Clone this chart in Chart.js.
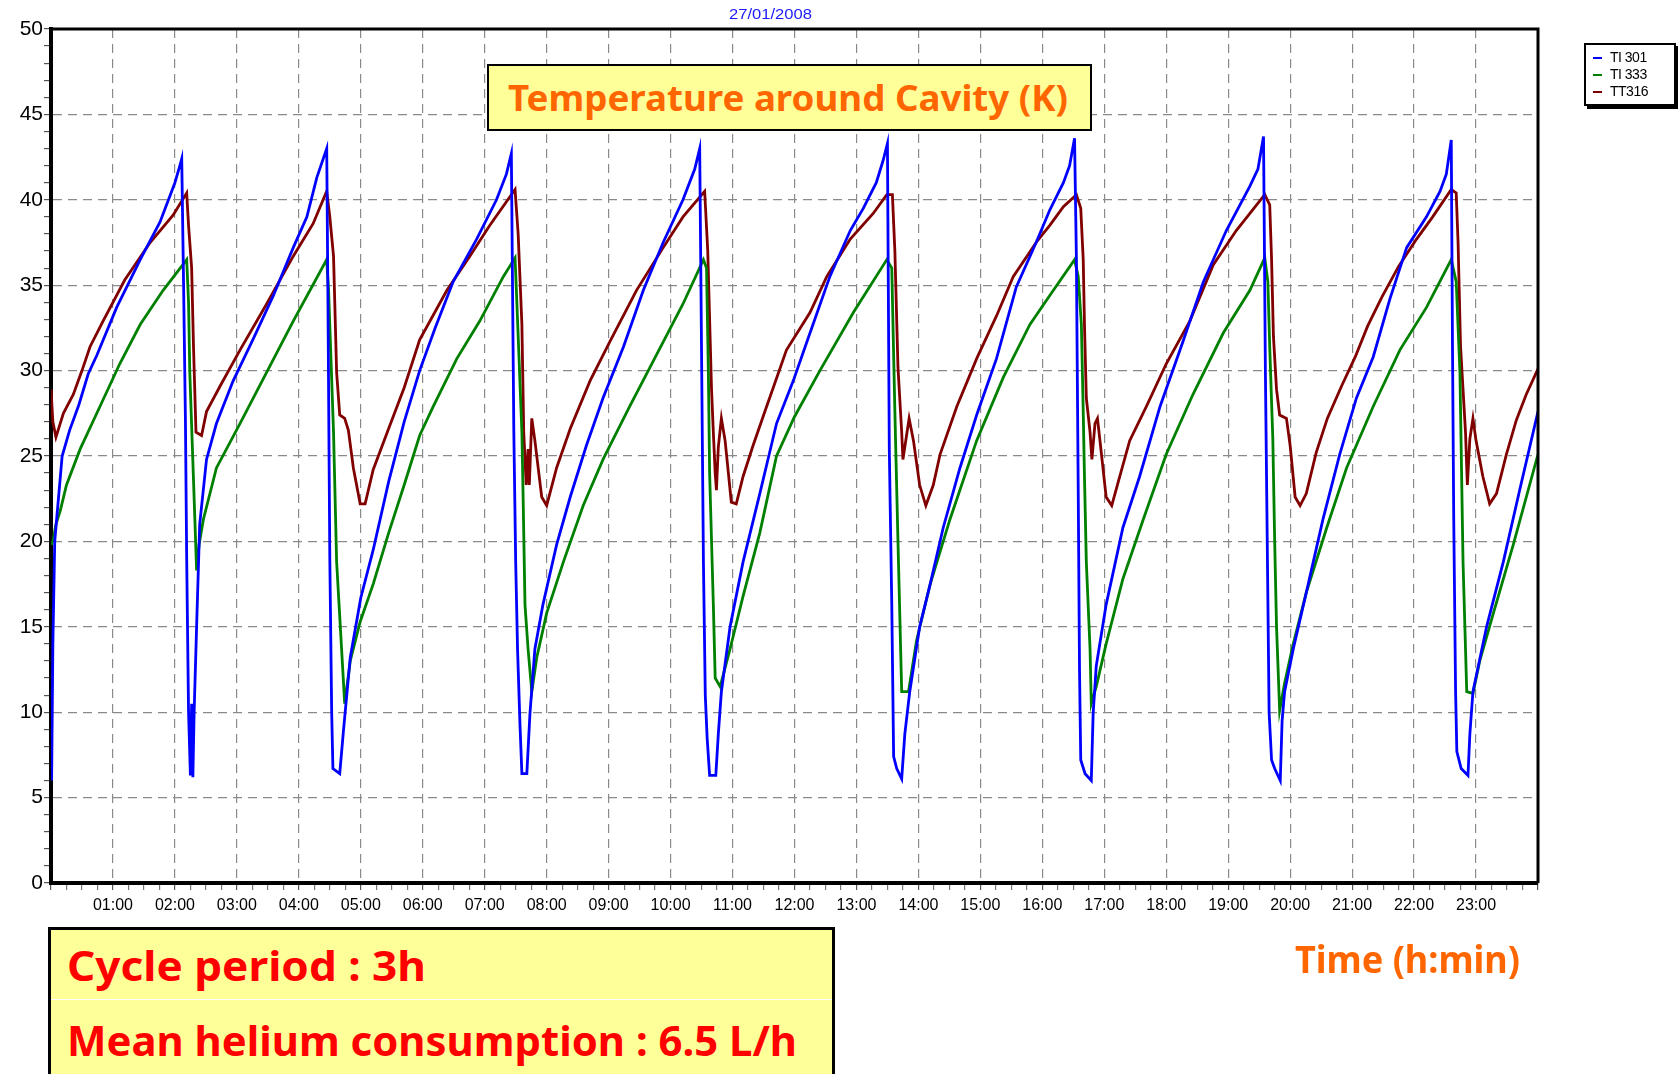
<!DOCTYPE html>
<html>
<head>
<meta charset="utf-8">
<script src="https://cdn.jsdelivr.net/npm/chart.js@4.4.0/dist/chart.umd.min.js"></script>
<style>
  html, body { margin: 0; padding: 0; background: #fff; }
  #wrap { position: relative; width: 1678px; height: 1074px; overflow: hidden; background: #fff; }
  #c { position: absolute; left: 0; top: 0; }
  .fit { position: absolute; white-space: nowrap; transform-origin: left center; }
  #date { color: #1a1aff; font: 15px "Liberation Sans", Arial, sans-serif; left: 729px; top: 5px; }
  #titleBox { position: absolute; left: 487px; top: 64px; width: 605px; height: 67px; box-sizing: border-box;
              border: 2px solid #000; background: #FFFF99; }
  #titleText { color: #FF6600; font: bold 36px "Comic Sans MS", "Noto Sans", sans-serif; left: 19px; top: 7px; }
  #infoBox { position: absolute; left: 48px; top: 927px; width: 787px; height: 170px; box-sizing: border-box;
             border: 3px solid #000; background: #FFFF99; }
  #divider { position: absolute; left: 0; right: 0; top: 69px; height: 1px; background: #fff; }
  .info { color: #FF0000; font: bold 42px "Comic Sans MS", "Noto Sans", sans-serif; left: 16px; }
  #xTitle { color: #FF6600; font: bold 37px "Comic Sans MS", "Noto Sans", sans-serif; left: 1295px; top: 933px; }
  #legend { position: absolute; left: 1584px; top: 43px; width: 92px; height: 63px; box-sizing: border-box;
            border: 2px solid #000; background: #fff; box-shadow: 3px 3px 0 #000; padding-top: 4px; }
  .lg { position: relative; height: 17px; font: 14px "Liberation Sans", Arial, sans-serif; color: #000; letter-spacing: -0.5px; }
  .lg i { position: absolute; left: 7px; top: 8px; width: 9px; height: 2px; }
  .lg span { position: absolute; left: 24px; top: 0; line-height: 17px; }
</style>
</head>
<body>
<div id="wrap">
  <canvas id="c" width="1678" height="1074"></canvas>
  <div id="date" class="fit">27/01/2008</div>
  <div id="titleBox"><span id="titleText" class="fit">Temperature around Cavity (K)</span></div>
  <div id="legend"></div>
  <div id="infoBox">
    <span id="info1" class="fit info" style="top:6px">Cycle period : 3h</span>
    <div id="divider"></div>
    <span id="info2" class="fit info" style="top:81px">Mean helium consumption : 6.5 L/h</span>
  </div>
  <div id="xTitle" class="fit">Time (h:min)</div>
</div>
<script>
// ---------------- DATA ----------------
const seriesLabels = ['TI 301', 'TI 333', 'TT316'];
const seriesColors = ['#0000FF', '#008000', '#800000'];
const hourTickLabels = ['01:00','02:00','03:00','04:00','05:00','06:00','07:00','08:00','09:00','10:00','11:00','12:00',
                        '13:00','14:00','15:00','16:00','17:00','18:00','19:00','20:00','21:00','22:00','23:00'];
const dateLabel = '27/01/2008';

// TI 301 (blue)
const ti301Hours = [0.01,0.03,0.06,0.12,0.18,0.3,0.45,0.6,0.74,1.06,1.44,1.76,2.0,2.08,2.11,2.14,2.17,2.19,2.22,2.25,2.27,2.29,2.31,2.35,2.4,2.51,2.67,2.94,3.27,3.59,3.91,4.13,4.29,4.45,
  4.47,4.5,4.53,4.55,4.66,4.72,4.83,5.0,5.2,5.45,5.7,5.95,6.2,6.49,6.87,7.19,7.35,7.43,
  7.47,7.5,7.53,7.57,7.6,7.68,7.73,7.81,7.94,8.16,8.38,8.64,8.91,9.24,9.56,9.88,10.2,10.39,10.47,
  10.5,10.53,10.56,10.59,10.63,10.73,10.77,10.82,10.96,11.17,11.44,11.71,11.98,12.25,12.57,12.9,13.11,13.32,13.43,13.5,
  13.53,13.57,13.6,13.65,13.73,13.78,13.86,14.02,14.19,14.4,14.67,14.94,15.26,15.58,15.9,16.12,16.34,16.44,16.52,
  16.55,16.58,16.6,16.62,16.69,16.79,16.82,16.87,17.03,17.3,17.57,17.9,18.27,18.6,18.97,19.35,19.48,19.57,
  19.6,19.63,19.66,19.7,19.75,19.84,19.87,19.91,20.05,20.26,20.53,20.8,21.07,21.34,21.61,21.88,22.2,22.42,22.52,22.6,
  22.62,22.64,22.67,22.69,22.76,22.87,22.9,22.95,23.17,23.44,23.71,24];
const ti301Values = [6.0,14,20,22.5,25,26.5,28,29.8,30.9,33.7,36.5,38.7,41,42,42.4,35,27,19,10,6.3,10.5,6.2,10,15,21,24.8,26.9,29.4,31.9,34.4,37.2,39,41.3,43,
  34,19,10,6.7,6.4,8.9,13.2,16.7,19.5,23.5,27,30,32.5,35.2,37.7,40,41.5,42.7,
  26.4,18.8,13.7,9.2,6.4,6.4,9.9,13.7,16.3,19.8,22.6,25.6,28.4,31.4,34.7,37.5,40,41.8,43,
  31,18.8,11,8.5,6.3,6.3,8.7,11.2,15,18.8,22.8,26.9,29.4,32.2,35.5,38.2,39.5,41,42.3,43.3,
  25.4,16.3,7.4,6.7,6.1,8.7,11.2,15,17.5,20.8,24.3,27.4,30.7,34.9,37.5,39.4,41,42,43.6,
  36.5,22.6,12.5,7.2,6.4,6.0,9.9,12.7,16.3,20.8,23.8,27.9,31.7,35.2,38.2,40.8,41.8,43.7,
  30,20,10,7.2,6.7,6.0,9.5,11.2,13.7,17,21.3,25.1,28.4,30.8,34.2,37.2,39,40.5,41.5,43.5,
  31.4,21.3,11.2,7.7,6.7,6.3,8.7,11.2,15,18.8,23.1,27.6];

// TI 333 (green)
const ti333Hours = [0.0,0.03,0.08,0.15,0.25,0.47,0.79,1.11,1.44,1.81,2.19,2.22,2.24,2.3,2.35,2.39,2.46,2.67,3.05,3.48,3.91,4.45,
  4.48,4.56,4.61,4.69,4.74,4.83,4.99,5.2,5.45,5.7,5.95,6.17,6.55,6.92,7.3,7.49,
  7.52,7.6,7.62,7.65,7.7,7.76,7.84,8.0,8.27,8.59,8.91,9.34,9.77,10.2,10.53,
  10.58,10.61,10.63,10.69,10.72,10.8,10.96,11.17,11.44,11.71,12.0,12.41,12.95,13.49,13.57,
  13.62,13.67,13.73,13.84,13.97,14.19,14.51,14.94,15.37,15.8,16.12,16.52,
  16.58,16.63,16.66,16.68,16.71,16.77,16.79,16.87,17.03,17.3,17.63,18.0,18.43,18.92,19.35,19.59,
  19.64,19.67,19.72,19.75,19.78,19.83,19.91,20.05,20.26,20.59,20.91,21.34,21.77,22.2,22.6,
  22.68,22.74,22.79,22.85,22.95,23.06,23.28,23.6,24];
const ti333Values = [19.8,20,21,21.8,23.3,25.4,27.9,30.4,32.7,34.7,36.5,34,29.9,23.6,18.3,19.8,21.3,24.3,26.9,29.9,32.9,36.5,
  34.7,26.4,18.8,13.7,10.5,13,15.3,17.5,20.5,23.3,26.2,27.9,30.7,32.9,35.5,36.6,
  33.9,26.4,22.6,16.3,13.7,11.2,13.2,15.8,18.8,22.1,24.8,27.9,30.9,33.9,36.5,
  36,29.9,24,16.3,12,11.5,13.7,16.8,20.5,25,27.3,30,33.4,36.5,36,
  27.6,20,11.2,11.2,14.2,17.5,21.3,25.9,29.6,32.7,34.4,36.5,
  35.5,32.7,27.6,23.8,18.8,13.7,10.5,11.5,14,17.8,21.3,25.1,28.6,32.2,34.7,36.6,
  35.2,31.4,26,20,15,10.1,11.7,14,17,20.8,24.3,27.9,31.2,33.7,36.5,
  35.2,29.9,18.8,11.2,11.1,13,15.8,19.8,25.1];

// TT316 (dark red)
const tt316Hours = [0.0,0.03,0.08,0.2,0.36,0.5,0.63,0.84,1.0,1.19,1.6,1.97,2.19,2.22,2.27,2.3,2.34,2.43,2.51,2.73,3.05,3.48,3.91,4.23,4.45,
  4.5,4.56,4.61,4.66,4.74,4.8,4.88,4.99,5.07,5.2,5.47,5.7,5.95,6.39,6.76,7.08,7.49,
  7.54,7.6,7.63,7.67,7.7,7.72,7.76,7.81,7.92,8.0,8.16,8.38,8.7,9.02,9.45,9.88,10.2,10.55,
  10.6,10.66,10.69,10.72,10.74,10.77,10.82,10.88,10.98,11.06,11.17,11.33,11.55,11.87,12.25,12.52,12.9,13.27,13.49,13.58,
  13.62,13.67,13.73,13.75,13.8,13.85,13.92,14.02,14.12,14.24,14.35,14.62,14.94,15.26,15.53,15.9,16.12,16.34,16.55,
  16.62,16.66,16.68,16.71,16.77,16.8,16.85,16.89,16.93,17.03,17.12,17.25,17.41,17.68,18.0,18.38,18.76,19.13,19.35,19.59,
  19.67,19.7,19.73,19.78,19.83,19.94,20.0,20.08,20.16,20.26,20.42,20.6,20.83,21.05,21.25,21.48,21.75,22.04,22.3,22.6,22.68,
  22.71,22.75,22.79,22.83,22.86,22.9,22.95,23.0,23.11,23.22,23.33,23.49,23.65,23.81,24];
const tt316Values = [28.9,27,26.1,27.5,28.6,30,31.4,32.9,34,35.3,37.5,39.1,40.4,38.5,36,31.4,26.4,26.2,27.6,29.1,31.2,33.9,36.7,38.6,40.5,
  39,36.7,29.9,27.4,27.2,26.5,24.3,22.2,22.2,24.2,26.8,29,31.8,34.7,36.7,38.5,40.6,
  38,32.7,26.4,23.3,25.4,23.3,27.2,25.9,22.6,22.1,24.3,26.6,29.4,31.7,34.7,37.2,39,40.5,
  37,29,26.4,24,23,25.5,27.2,25.9,22.3,22.2,23.8,25.6,27.9,31.2,33.4,35.5,37.7,39.2,40.3,40.3,
  37,30.2,26.4,24.8,26,27.2,25.9,23.3,22.1,23.3,25.1,27.9,30.7,33.2,35.5,37.5,38.5,39.6,40.3,
  39.5,36.5,32.7,28.4,26.4,24.8,26.9,27.2,25.9,22.6,22.1,23.8,25.9,27.9,30.4,32.9,36.2,38.2,39.2,40.3,
  39.7,36.5,32,28.9,27.4,27.2,25.6,22.6,22.1,22.8,25.2,27.2,29.1,30.8,32.6,34.3,36.1,37.7,39,40.6,40.4,
  37.5,31.4,28.9,26.4,23.3,26,27.2,25.9,23.8,22.2,22.8,25.1,27.1,28.6,30.1];

// ---------------- BUILD ----------------
const seriesHours = [ti301Hours, ti333Hours, tt316Hours];
const seriesValues = [ti301Values, ti333Values, tt316Values];
const datasets = seriesLabels.map((label, i) => ({
  label,
  data: seriesHours[i].map((h, k) => ({ x: h, y: seriesValues[i][k] })),
  borderColor: seriesColors[i],
  backgroundColor: seriesColors[i],
  borderWidth: 2.8,
  pointRadius: 0,
  tension: 0,
  fill: false
}));

// legend (HTML, built from series arrays)
const legendEl = document.getElementById('legend');
seriesLabels.forEach((label, i) => {
  const row = document.createElement('div');
  row.className = 'lg';
  row.innerHTML = '<i style="background:' + seriesColors[i] + '"></i><span>' + label + '</span>';
  legendEl.appendChild(row);
});
document.getElementById('date').textContent = dateLabel;

const framePlugin = {
  id: 'frame',
  afterDraw(chart) {
    const { ctx, chartArea: a } = chart;
    ctx.save();
    ctx.strokeStyle = '#000';
    ctx.lineWidth = 3;
    ctx.beginPath();
    ctx.moveTo(a.left, a.top);
    ctx.lineTo(a.right, a.top);
    ctx.lineTo(a.right, a.bottom);
    ctx.stroke();
    ctx.restore();
  }
};

const fontFamily = '"Liberation Sans", Arial, sans-serif';
new Chart(document.getElementById('c'), {
  type: 'line',
  data: { datasets },
  plugins: [framePlugin],
  options: {
    responsive: false,
    animation: false,
    events: [],
    layout: { padding: { top: 29, right: 140, left: 0, bottom: 0 } },
    plugins: { legend: { display: false }, title: { display: false }, tooltip: { enabled: false } },
    scales: {
      x: {
        type: 'linear', min: 0, max: 24,
        afterFit: s => { s.height = 191; },
        ticks: {
          stepSize: 0.25, autoSkip: false, maxRotation: 0, minRotation: 0, padding: 6,
          color: '#000', font: { family: fontFamily, size: 16 },
          callback: v => (Number.isInteger(v) && v >= 1 && v <= 23) ? hourTickLabels[v - 1] : ''
        },
        grid: {
          color: c => (c.tick && Number.isInteger(c.tick.value) && c.tick.value > 0 && c.tick.value < 24) ? '#8a8a8a' : 'rgba(0,0,0,0)',
          lineWidth: 1.2,
          tickLength: 7,
          tickColor: c => (c.tick && Number.isInteger(c.tick.value)) ? '#555' : '#777',
          drawOnChartArea: true
        },
        border: { display: true, color: '#000', width: 4, dash: [9, 6] }
      },
      y: {
        min: 0, max: 50,
        afterFit: s => { s.width = 51; },
        ticks: {
          stepSize: 1, autoSkip: false, padding: 1,
          color: '#000', font: { family: fontFamily, size: 21 },
          callback: v => (v % 5 === 0) ? String(v) : ''
        },
        grid: {
          color: c => (c.tick && c.tick.value % 5 === 0 && c.tick.value > 0) ? '#8a8a8a' : 'rgba(0,0,0,0)',
          lineWidth: 1.2,
          tickLength: 7,
          tickColor: '#555'
        },
        border: { display: true, color: '#000', width: 4, dash: [9, 6] }
      }
    }
  }
});

// fit annotation texts to their measured widths in the reference
function fitWidth(id, target) {
  const el = document.getElementById(id);
  const w = el.getBoundingClientRect().width;
  el.style.transform = 'scaleX(' + (target / w) + ')';
}
fitWidth('date', 83);
fitWidth('titleText', 560);
fitWidth('info1', 359);
fitWidth('info2', 730);
fitWidth('xTitle', 225);
</script>
</body>
</html>
